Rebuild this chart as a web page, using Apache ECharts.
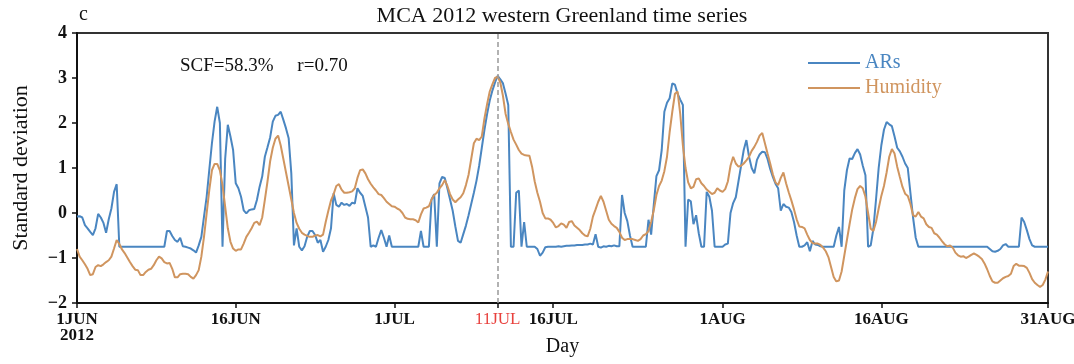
<!DOCTYPE html>
<html><head><meta charset="utf-8">
<script src="https://cdn.jsdelivr.net/npm/echarts@6/dist/echarts.min.js"></script>
<style>html,body{margin:0;padding:0;background:#fff}#c{width:1074px;height:364px}</style>
</head><body><div id="c"></div>
<script>
// ---- data (6-hourly, 1 JUN 00Z .. 31 AUG 18Z 2012) ----
const seriesNames = ['ARs', 'Humidity'];
const seriesColors = ['#4a86c1', '#d0955f'];
const arsValues = [
-0.08,-0.07,-0.10,-0.27,-0.34,-0.42,-0.49,-0.34,-0.02,-0.10,
-0.22,-0.44,-0.14,0.10,0.47,0.64,-0.75,-0.75,-0.75,-0.75,
-0.75,-0.75,-0.75,-0.75,-0.75,-0.75,-0.75,-0.75,-0.75,-0.75,
-0.75,-0.75,-0.75,-0.75,-0.40,-0.40,-0.51,-0.60,-0.64,-0.55,
-0.74,-0.75,-0.77,-0.79,-0.83,-0.88,-0.72,-0.53,-0.08,0.36,
0.96,1.55,2.03,2.36,2.00,-0.75,1.20,1.96,1.70,1.40,
0.66,0.55,0.36,0.06,-0.01,0.06,0.08,0.09,0.29,0.58,
0.81,1.25,1.46,1.68,2.03,2.16,2.18,2.25,2.07,1.88,
1.66,0.88,-0.72,-0.34,-0.75,-0.83,-0.74,-0.53,-0.40,-0.40,
-0.49,-0.66,-0.60,-0.86,-0.75,-0.60,-0.34,0.44,0.18,0.14,
0.23,0.18,0.20,0.16,0.23,0.21,0.55,0.45,0.38,0.14,
-0.10,-0.75,-0.72,-0.75,-0.55,-0.38,-0.55,-0.75,-0.50,-0.75,
-0.75,-0.75,-0.75,-0.75,-0.75,-0.75,-0.75,-0.75,-0.75,-0.75,
-0.40,-0.75,-0.75,-0.75,0.30,0.42,-0.75,0.66,0.80,0.78,
0.55,0.30,0.05,-0.30,-0.62,-0.66,-0.47,-0.28,-0.05,0.20,
0.45,0.72,1.05,1.45,1.85,2.20,2.50,2.72,2.90,3.05,
2.97,2.88,2.65,2.40,-0.75,-0.75,0.45,0.50,-0.75,-0.20,
-0.75,-0.75,-0.75,-0.75,-0.80,-0.95,-0.88,-0.76,-0.75,-0.75,
-0.75,-0.75,-0.74,-0.75,-0.74,-0.73,-0.73,-0.72,-0.72,-0.71,
-0.71,-0.71,-0.70,-0.70,-0.68,-0.70,-0.47,-0.75,-0.77,-0.74,
-0.75,-0.73,-0.74,-0.72,-0.74,-0.74,0.40,0.00,-0.18,-0.50,
-0.75,-0.75,-0.75,-0.75,-0.75,-0.75,-0.15,-0.48,0.18,0.82,
0.95,1.40,2.25,2.45,2.55,2.88,2.85,2.65,2.52,2.40,
-0.75,0.30,0.26,-0.25,-0.05,-0.45,-0.75,-0.75,0.47,0.36,
0.05,-0.75,-0.75,-0.75,-0.75,-0.70,-0.68,0.00,0.22,0.35,
0.70,1.05,1.40,1.62,1.25,1.00,0.88,1.18,1.30,1.36,
1.35,1.20,0.98,0.80,0.65,0.55,0.05,0.20,0.14,0.12,
0.02,-0.20,-0.50,-0.75,-0.75,-0.72,-0.65,-0.85,-0.62,-0.70,
-0.71,-0.74,-0.75,-0.75,-0.75,-0.75,-0.75,-0.50,-0.31,-0.75,
0.50,0.95,1.21,1.20,1.33,1.42,1.30,1.05,0.84,-0.75,
-0.72,-0.35,0.30,1.00,1.50,1.85,2.02,1.97,1.93,1.70,
1.45,1.37,1.25,1.10,1.00,0.45,-0.10,-0.55,-0.75,-0.75,
-0.75,-0.75,-0.75,-0.75,-0.75,-0.75,-0.75,-0.75,-0.75,-0.75,
-0.75,-0.75,-0.75,-0.75,-0.75,-0.75,-0.75,-0.75,-0.75,-0.75,
-0.75,-0.75,-0.75,-0.75,-0.75,-0.80,-0.85,-0.86,-0.84,-0.80,
-0.72,-0.69,-0.75,-0.75,-0.75,-0.75,-0.75,-0.10,-0.20,-0.38,
-0.58,-0.72,-0.75,-0.75,-0.75,-0.75,-0.75,-0.75
];
const humidityValues = [
-0.80,-0.97,-1.05,-1.14,-1.24,-1.38,-1.36,-1.20,-1.16,-1.18,
-1.14,-1.09,-1.05,-0.97,-0.79,-0.60,-0.69,-0.81,-0.89,-0.99,
-1.09,-1.18,-1.26,-1.27,-1.38,-1.38,-1.31,-1.26,-1.24,-1.16,
-1.05,-0.97,-1.01,-1.09,-1.12,-1.11,-1.24,-1.43,-1.43,-1.36,
-1.35,-1.35,-1.36,-1.42,-1.46,-1.38,-1.27,-0.97,-0.53,-0.01,
0.51,0.95,1.09,1.09,0.95,0.62,0.14,-0.34,-0.64,-0.79,
-0.84,-0.81,-0.81,-0.68,-0.53,-0.44,-0.34,-0.22,-0.19,-0.27,
-0.10,0.29,0.70,1.15,1.45,1.65,1.72,1.50,1.20,0.90,
0.60,0.30,0.00,-0.22,-0.35,-0.44,-0.48,-0.51,-0.53,-0.53,
-0.50,-0.49,-0.52,-0.48,-0.20,0.05,0.28,0.42,0.60,0.64,
0.52,0.45,0.45,0.46,0.48,0.55,0.78,0.95,0.97,0.88,
0.75,0.65,0.57,0.50,0.42,0.40,0.33,0.25,0.20,0.15,
0.14,0.10,0.07,0.00,-0.10,-0.13,-0.14,-0.14,-0.16,-0.21,
-0.03,0.10,0.12,0.15,0.30,0.40,0.45,0.55,0.62,0.73,
0.60,0.42,0.30,0.24,0.30,0.35,0.44,0.62,0.85,1.20,
1.55,1.65,1.62,1.70,2.10,2.42,2.70,2.86,3.00,3.03,
2.90,2.60,2.20,1.98,1.80,1.63,1.52,1.40,1.32,1.29,
1.28,1.27,1.03,0.70,0.45,0.25,0.00,-0.12,-0.12,-0.15,
-0.22,-0.32,-0.29,-0.23,-0.26,-0.33,-0.20,-0.18,-0.28,-0.33,
-0.38,-0.45,-0.50,-0.52,-0.35,-0.08,0.08,0.25,0.38,0.25,
0.05,-0.15,-0.24,-0.29,-0.33,-0.42,-0.55,-0.60,-0.58,-0.58,
-0.58,-0.60,-0.62,-0.58,-0.50,-0.47,-0.40,-0.20,0.06,0.40,
0.60,0.72,0.93,1.25,1.80,2.25,2.65,2.70,2.20,1.50,
1.00,0.68,0.55,0.58,0.75,0.77,0.66,0.60,0.52,0.47,
0.42,0.45,0.55,0.50,0.47,0.53,0.70,1.05,1.25,1.10,
1.03,1.05,1.10,1.17,1.25,1.38,1.47,1.58,1.72,1.78,
1.55,1.32,1.10,0.86,0.68,0.62,0.78,0.90,0.66,0.46,
0.28,0.08,-0.14,-0.30,-0.31,-0.34,-0.48,-0.60,-0.67,-0.68,
-0.68,-0.71,-0.77,-0.85,-0.98,-1.20,-1.42,-1.52,-1.50,-1.30,
-0.95,-0.60,-0.25,0.08,0.33,0.53,0.60,0.55,0.36,0.00,
-0.35,-0.40,-0.20,0.10,0.38,0.60,0.90,1.25,1.42,1.32,
1.03,0.80,0.58,0.43,0.38,0.20,-0.05,-0.08,0.02,-0.08,
-0.12,-0.25,-0.31,-0.33,-0.45,-0.48,-0.55,-0.63,-0.70,-0.74,
-0.72,-0.77,-0.88,-0.94,-0.97,-0.96,-1.00,-0.97,-0.93,-0.90,
-0.93,-0.97,-1.02,-1.12,-1.25,-1.40,-1.52,-1.55,-1.55,-1.50,
-1.45,-1.42,-1.40,-1.35,-1.18,-1.13,-1.17,-1.17,-1.18,-1.22,
-1.33,-1.47,-1.55,-1.60,-1.64,-1.60,-1.48,-1.30
];
// tick labels: [category, label]
const tickLabels = [
  ['06-01 00', '1JUN\n2012'],
  ['06-16 00', '16JUN'],
  ['07-01 00', '1JUL'],
  ['07-10 18', '11JUL'],
  ['07-16 00', '16JUL'],
  ['08-01 00', '1AUG'],
  ['08-16 00', '16AUG'],
  ['08-31 18', '31AUG']
];
const highlightCategory = '07-10 18';
const yTicks = [-2, -1, 0, 1, 2, 3, 4];
const titleText = 'MCA 2012 western Greenland time series';
const panelLetter = 'c';
const statsText = 'SCF=58.3%     r=0.70';

// ---- categories (6-hourly timestamps) ----
function pad(n) { return (n < 10 ? '0' : '') + n; }
const categories = [];
const t0 = Date.UTC(2012, 5, 1, 0);
for (let k = 0; k < arsValues.length; k++) {
  const d = new Date(t0 + k * 6 * 3600 * 1000);
  categories.push(pad(d.getUTCMonth() + 1) + '-' + pad(d.getUTCDate()) + ' ' + pad(d.getUTCHours()));
}
const tickMap = {};
tickLabels.forEach(function (p) { tickMap[p[0]] = p[1]; });

const serif = 'Liberation Serif';
const chart = echarts.init(document.getElementById('c'), null, { renderer: 'canvas' });
chart.setOption({
  animation: false,
  backgroundColor: '#fff',
  grid: { left: 77, right: 26, top: 33, bottom: 61, show: true, borderColor: '#333', borderWidth: 2,
    containLabel: false, outerBoundsMode: 'none' },
  graphic: [
    { type: 'text', left: 79, top: 5, style: { text: panelLetter, font: '20px "' + serif + '"', fill: '#111' } },
    { type: 'text', x: 562, y: 5, style: { text: titleText, font: '22px "' + serif + '"', fill: '#111', textAlign: 'center', textVerticalAlign: 'top' } },
    { type: 'text', x: 180, y: 57, style: { text: statsText, font: '19px "' + serif + '"', fill: '#111', textVerticalAlign: 'top' } }
  ],
  legend: {
    orient: 'vertical', left: 803, top: 48, itemWidth: 52, itemHeight: 2, itemGap: 5,
    icon: 'rect',
    data: [
      { name: seriesNames[0], textStyle: { color: seriesColors[0] } },
      { name: seriesNames[1], textStyle: { color: seriesColors[1] } }
    ],
    textStyle: { fontFamily: serif, fontSize: 20 }
  },
  xAxis: {
    type: 'category', data: categories, boundaryGap: false,
    name: 'Day', nameLocation: 'middle', nameGap: 34, nameMoveOverlap: false,
    nameTextStyle: { fontFamily: serif, fontSize: 20, color: '#111' },
    axisLine: { onZero: false, lineStyle: { color: '#111', width: 2 } },
    axisTick: { show: true, inside: false, length: 5, lineStyle: { color: '#111', width: 1.5 },
      interval: function (i, v) { return tickMap[v] !== undefined; } },
    axisLabel: {
      interval: function (i, v) { return tickMap[v] !== undefined; },
      margin: 9,
      formatter: function (v) {
        const s = tickMap[v];
        if (s === undefined) return '';
        const style = v === highlightCategory ? 'r' : 'n';
        return s.split('\n').map(function (line) { return '{' + style + '|' + line + '}'; }).join('\n');
      },
      rich: {
        n: { fontFamily: serif, fontWeight: 'bold', fontSize: 17, color: '#111', lineHeight: 16 },
        r: { fontFamily: serif, fontWeight: 'normal', fontSize: 17, color: '#e8413d', lineHeight: 16 }
      }
    },
    splitLine: { show: false }
  },
  yAxis: {
    type: 'value', min: yTicks[0], max: yTicks[yTicks.length - 1], interval: 1,
    name: 'Standard deviation', nameLocation: 'middle', nameGap: 45, nameMoveOverlap: false,
    nameTextStyle: { fontFamily: serif, fontSize: 22, color: '#111' },
    axisLine: { show: true, onZero: false, lineStyle: { color: '#111', width: 2 } },
    axisTick: { show: true, inside: false, length: 5, lineStyle: { color: '#111', width: 1.5 } },
    axisLabel: {
      margin: 10, fontFamily: serif, fontWeight: 'bold', fontSize: 18, color: '#111',
      formatter: function (v) { return v < 0 ? '\u2212' + (-v) : String(v); }
    },
    splitLine: { show: false }
  },
  series: [
    {
      name: seriesNames[0], type: 'line', data: arsValues, symbol: 'none',
      lineStyle: { color: seriesColors[0], width: 2 }, itemStyle: { color: seriesColors[0] },
      markLine: {
        silent: true, symbol: ['none', 'none'], label: { show: false },
        lineStyle: { color: '#999', type: [5, 3], width: 1.5 },
        data: [{ xAxis: highlightCategory }]
      },
      z: 2
    },
    {
      name: seriesNames[1], type: 'line', data: humidityValues, symbol: 'none',
      lineStyle: { color: seriesColors[1], width: 2 }, itemStyle: { color: seriesColors[1] },
      z: 3
    }
  ]
});
</script>
</body></html>
